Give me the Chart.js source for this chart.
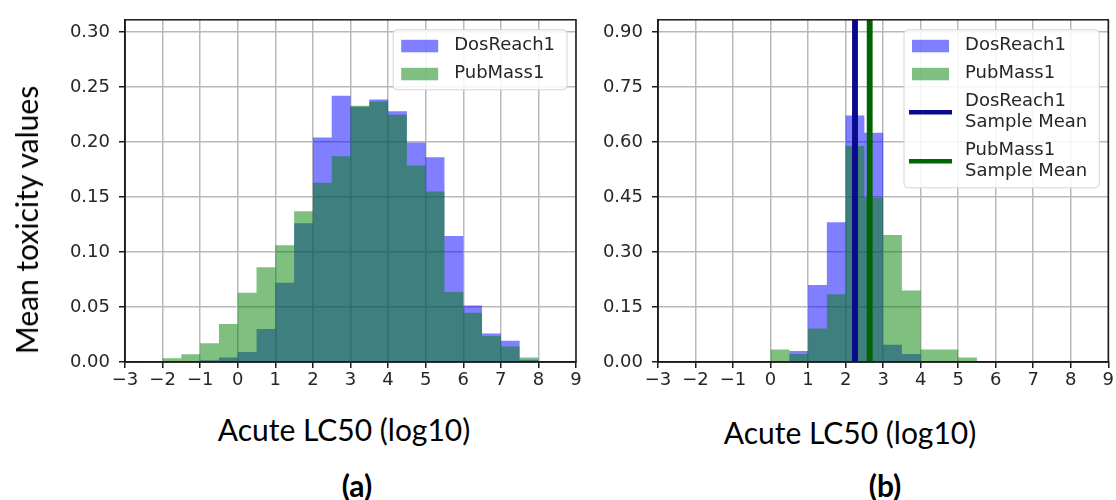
<!DOCTYPE html>
<html>
<head>
<meta charset="utf-8">
<script src="https://cdn.jsdelivr.net/npm/chart.js@4.4.1/dist/chart.umd.min.js"></script>
<style>
  body { margin: 0; background: #fff; }
  #page { position: relative; width: 1116px; height: 500px; overflow: hidden; background: #fff; }
  .panel { position: absolute; top: 0; }
  .lbl { position: absolute; font-family: Lato, "Liberation Sans", sans-serif; color: #000; white-space: nowrap; line-height: 1; }
</style>
</head>
<body>
<div id="page">
  <canvas id="histA" class="panel" width="590" height="400" style="left:0"></canvas>
  <canvas id="histB" class="panel" width="556" height="400" style="left:560px"></canvas>

  <div class="lbl" id="ylab" style="left:26px; top:220px; font-size:30px; transform:translate(-50%,-50%) rotate(-90deg);">Mean toxicity values</div>
  <div class="lbl" style="left:344px; top:429px; font-size:30px; transform:translate(-50%,-50%);">Acute LC50 (log10)</div>
  <div class="lbl" style="left:850px; top:432px; font-size:30px; transform:translate(-50%,-50%);">Acute LC50 (log10)</div>
  <div class="lbl" style="left:357px; top:485px; font-size:30px; font-weight:bold; transform:translate(-50%,-50%);">(a)</div>
  <div class="lbl" style="left:885px; top:485px; font-size:30px; font-weight:bold; transform:translate(-50%,-50%);">(b)</div>
</div>

<script>
// left edges of the 0.5-wide bins
const binLeft = [-3, -2.5, -2, -1.5, -1, -0.5, 0, 0.5, 1, 1.5, 2, 2.5,
                 3, 3.5, 4, 4.5, 5, 5.5, 6, 6.5, 7, 7.5, 8, 8.5];

// (a) all compounds
const dosReachA = [0, 0, 0.0005, 0.0006, 0.0015, 0.004, 0.009, 0.030, 0.072, 0.126, 0.204, 0.242,
                   0.232, 0.2385, 0.228, 0.1995, 0.186, 0.1146, 0.0513, 0.026, 0.0192, 0.002, 0.0006, 0];
const pubMassA  = [0, 0.001, 0.0033, 0.007, 0.017, 0.0345, 0.063, 0.086, 0.106, 0.137, 0.163, 0.187,
                   0.233, 0.2367, 0.2247, 0.1785, 0.155, 0.0636, 0.0447, 0.0237, 0.014, 0.004, 0, 0];

// (b) sample means
const dosReachB = [0, 0, 0, 0, 0, 0, 0, 0.030, 0.210, 0.381, 0.672, 0.625,
                   0.047, 0.022, 0, 0, 0, 0, 0, 0, 0, 0, 0, 0];
const pubMassB  = [0, 0, 0, 0, 0, 0, 0.034, 0.022, 0.091, 0.185, 0.589, 0.448,
                   0.346, 0.195, 0.034, 0.034, 0.012, 0, 0, 0, 0, 0, 0, 0];
const dosReachMean = 2.25;
const pubMassMean = 2.64;

const xTickMin = -3, xTickMax = 9, xTickStep = 1;
const yTicksA = { max: 0.311, step: 0.05 };
const yTicksB = { max: 0.933, step: 0.15 };

const BLUE = 'rgba(0, 0, 255, 0.5)';
const GREEN = 'rgba(0, 128, 0, 0.5)';
const TICK_FONT = { family: 'DejaVu Sans', size: 18 };

function toPoints(xs, ys) {
  return xs.map((x, i) => ({ x: x, y: ys[i] }));
}

// each bin holds its value from its left edge up to the next edge
function histSet(label, values, color, order) {
  return {
    type: 'line', label: label, data: toPoints(binLeft, values),
    stepped: 'before', fill: 'origin', backgroundColor: color,
    borderWidth: 0, pointRadius: 0, order: order
  };
}

function meanSet(label, value, color, yMax) {
  return {
    type: 'line', label: label, meanLine: true,
    data: [{ x: value, y: 0 }, { x: value, y: yMax }],
    borderColor: color, borderWidth: 5.5, fill: false, pointRadius: 0, order: -1
  };
}

// frame, mean lines above the grid, and the boxed legend
const overlay = {
  id: 'overlay',
  afterDraw(chart) {
    const ctx = chart.ctx, a = chart.chartArea;
    ctx.save();
    ctx.beginPath();
    ctx.rect(a.left, a.top, a.right - a.left, a.bottom - a.top);
    ctx.clip();
    chart.data.datasets.forEach((ds, i) => {
      if (ds.meanLine) chart.getDatasetMeta(i).controller.draw();
    });
    ctx.restore();

    ctx.save();
    ctx.strokeStyle = '#1a1a1a';
    ctx.lineWidth = 1.5;
    ctx.strokeRect(a.left, a.top, a.right - a.left, a.bottom - a.top);
    ctx.restore();

    // legend in the dataset order of the file
    const rows = chart.data.datasets.map(ds => ({
      lines: ds.label.split('\n'), line: !!ds.meanLine,
      color: ds.meanLine ? ds.borderColor : ds.backgroundColor
    }));
    ctx.save();
    ctx.font = '18px "DejaVu Sans"';
    let textW = 0;
    rows.forEach(r => r.lines.forEach(t => { textW = Math.max(textW, ctx.measureText(t).width); }));
    const lineH = 21, gap = 7;
    const h = rows.reduce((s, r) => s + r.lines.length * lineH + gap, 0) + 4;
    const w = textW + 61 + 12;
    const x0 = a.right - 9 - w, y0 = a.top + 10;
    ctx.fillStyle = 'rgba(255,255,255,0.85)';
    ctx.strokeStyle = '#d4d4d4';
    ctx.lineWidth = 1;
    ctx.beginPath();
    ctx.roundRect(x0, y0, w, h, 4);
    ctx.fill();
    ctx.stroke();
    let y = y0 + 2;
    ctx.textBaseline = 'middle';
    rows.forEach(r => {
      const rh = r.lines.length * lineH + gap;
      const cy = y + rh / 2;
      if (r.line) {
        ctx.strokeStyle = r.color;
        ctx.lineWidth = 4.5;
        ctx.beginPath();
        ctx.moveTo(x0 + 5, cy);
        ctx.lineTo(x0 + 48, cy);
        ctx.stroke();
      } else {
        ctx.fillStyle = r.color;
        ctx.fillRect(x0 + 8, cy - 6, 37, 12.5);
      }
      ctx.fillStyle = '#262626';
      r.lines.forEach((t, k) => {
        ctx.fillText(t, x0 + 61, cy + (k - (r.lines.length - 1) / 2) * lineH);
      });
      y += rh;
    });
    ctx.restore();
  }
};

function makeOptions(yCfg, axisWidth, rightPad) {
  const grid = { color: '#b9b9b9', lineWidth: 1.5, tickColor: '#1a1a1a', tickLength: 6, tickWidth: 1.5 };
  const border = { color: '#1a1a1a', width: 1.5 };
  return {
    responsive: false,
    animation: false,
    layout: { padding: { top: 16, right: rightPad, left: 0, bottom: 0 } },
    plugins: { legend: { display: false }, tooltip: { enabled: false } },
    scales: {
      x: {
        type: 'linear', min: xTickMin, max: xTickMax, z: 1,
        grid: grid, border: border,
        ticks: {
          stepSize: xTickStep, includeBounds: false, autoSkip: false, maxRotation: 0,
          padding: 2, color: '#262626', font: TICK_FONT,
          callback: v => String(v).replace('-', '\u2212')
        },
        afterFit: s => { s.height = 400 - 16 - 346; }
      },
      y: {
        type: 'linear', min: 0, max: yCfg.max, z: 1,
        grid: grid, border: border,
        ticks: {
          stepSize: yCfg.step, includeBounds: false, padding: 9,
          color: '#262626', font: TICK_FONT,
          callback: v => v.toFixed(2)
        },
        afterFit: s => { s.width = axisWidth; }
      }
    }
  };
}

new Chart(document.getElementById('histA'), {
  type: 'line',
  data: {
    datasets: [
      histSet('DosReach1', dosReachA, BLUE, 2),
      histSet('PubMass1', pubMassA, GREEN, 1)
    ]
  },
  options: makeOptions(yTicksA, 125, 14),
  plugins: [overlay]
});

new Chart(document.getElementById('histB'), {
  type: 'line',
  data: {
    datasets: [
      histSet('DosReach1', dosReachB, BLUE, 2),
      histSet('PubMass1', pubMassB, GREEN, 1),
      meanSet('DosReach1\nSample Mean', dosReachMean, '#0a0a8c', yTicksB.max),
      meanSet('PubMass1\nSample Mean', pubMassMean, '#006400', yTicksB.max)
    ]
  },
  options: makeOptions(yTicksB, 98, 7),
  plugins: [overlay]
});
</script>
</body>
</html>
